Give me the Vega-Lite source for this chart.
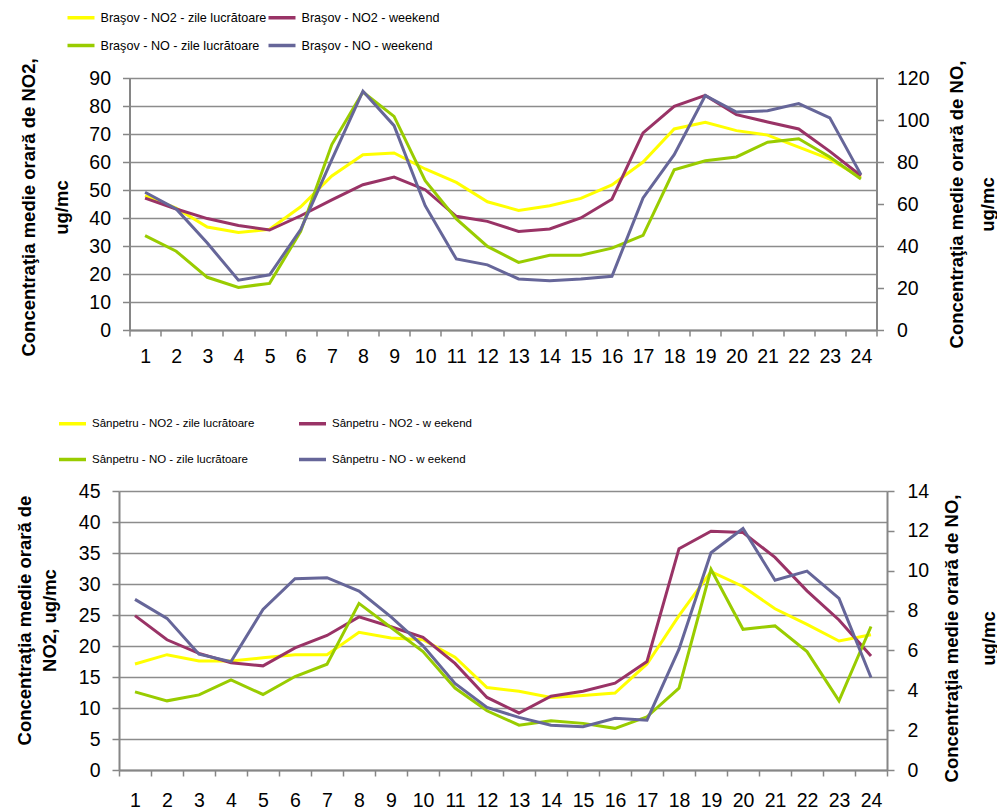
{
  "$schema": "https://vega.github.io/schema/vega-lite/v6.json",
  "background": "white",
  "padding": {"left": 14, "top": 2, "right": 0, "bottom": 0},
  "autosize": {"type": "pad"},
  "config": {
    "view": {"stroke": null},
    "font": "Liberation Sans",
    "axis": {
      "domainColor": "#868686", "domainWidth": 2,
      "tickColor": "#868686", "tickWidth": 1.5,
      "gridColor": "#8c8c8c", "gridWidth": 1.5,
      "labelFont": "Liberation Sans", "labelFontSize": 19.5, "labelColor": "#000000",
      "titleFont": "Liberation Sans",
      "titleFontSize": 18.5, "titleFontWeight": "bold", "titleColor": "#000000"
    },
    "legend": {
      "labelFont": "Liberation Sans",
      "labelFontSize": 12.6, "labelColor": "#000000", "labelLimit": 400,
      "symbolType": "stroke", "symbolStrokeWidth": 3.5, "symbolSize": 729,
      "labelOffset": 4
    }
  },
  "datasets": {
    "brasov": [
      {"h":1,"p":"NO2","s":"Braşov - NO2 - zile lucrătoare","v":48},
      {"h":2,"p":"NO2","s":"Braşov - NO2 - zile lucrătoare","v":43.5},
      {"h":3,"p":"NO2","s":"Braşov - NO2 - zile lucrătoare","v":36.8},
      {"h":4,"p":"NO2","s":"Braşov - NO2 - zile lucrătoare","v":34.8},
      {"h":5,"p":"NO2","s":"Braşov - NO2 - zile lucrătoare","v":36},
      {"h":6,"p":"NO2","s":"Braşov - NO2 - zile lucrătoare","v":44},
      {"h":7,"p":"NO2","s":"Braşov - NO2 - zile lucrătoare","v":55},
      {"h":8,"p":"NO2","s":"Braşov - NO2 - zile lucrătoare","v":62.6},
      {"h":9,"p":"NO2","s":"Braşov - NO2 - zile lucrătoare","v":63.2},
      {"h":10,"p":"NO2","s":"Braşov - NO2 - zile lucrătoare","v":57.5},
      {"h":11,"p":"NO2","s":"Braşov - NO2 - zile lucrătoare","v":52.7},
      {"h":12,"p":"NO2","s":"Braşov - NO2 - zile lucrătoare","v":45.8},
      {"h":13,"p":"NO2","s":"Braşov - NO2 - zile lucrătoare","v":42.7},
      {"h":14,"p":"NO2","s":"Braşov - NO2 - zile lucrătoare","v":44.4},
      {"h":15,"p":"NO2","s":"Braşov - NO2 - zile lucrătoare","v":47},
      {"h":16,"p":"NO2","s":"Braşov - NO2 - zile lucrătoare","v":51.8},
      {"h":17,"p":"NO2","s":"Braşov - NO2 - zile lucrătoare","v":60},
      {"h":18,"p":"NO2","s":"Braşov - NO2 - zile lucrătoare","v":71.8},
      {"h":19,"p":"NO2","s":"Braşov - NO2 - zile lucrătoare","v":74.2},
      {"h":20,"p":"NO2","s":"Braşov - NO2 - zile lucrătoare","v":71.2},
      {"h":21,"p":"NO2","s":"Braşov - NO2 - zile lucrătoare","v":69.6},
      {"h":22,"p":"NO2","s":"Braşov - NO2 - zile lucrătoare","v":65.3},
      {"h":23,"p":"NO2","s":"Braşov - NO2 - zile lucrătoare","v":61},
      {"h":24,"p":"NO2","s":"Braşov - NO2 - zile lucrătoare","v":54.5},
      {"h":1,"p":"NO2","s":"Braşov - NO2 - weekend","v":47.1},
      {"h":2,"p":"NO2","s":"Braşov - NO2 - weekend","v":43.2},
      {"h":3,"p":"NO2","s":"Braşov - NO2 - weekend","v":39.8},
      {"h":4,"p":"NO2","s":"Braşov - NO2 - weekend","v":37.3},
      {"h":5,"p":"NO2","s":"Braşov - NO2 - weekend","v":35.7},
      {"h":6,"p":"NO2","s":"Braşov - NO2 - weekend","v":40.8},
      {"h":7,"p":"NO2","s":"Braşov - NO2 - weekend","v":46.5},
      {"h":8,"p":"NO2","s":"Braşov - NO2 - weekend","v":51.9},
      {"h":9,"p":"NO2","s":"Braşov - NO2 - weekend","v":54.6},
      {"h":10,"p":"NO2","s":"Braşov - NO2 - weekend","v":50.1},
      {"h":11,"p":"NO2","s":"Braşov - NO2 - weekend","v":40.6},
      {"h":12,"p":"NO2","s":"Braşov - NO2 - weekend","v":38.8},
      {"h":13,"p":"NO2","s":"Braşov - NO2 - weekend","v":35.2},
      {"h":14,"p":"NO2","s":"Braşov - NO2 - weekend","v":36.1},
      {"h":15,"p":"NO2","s":"Braşov - NO2 - weekend","v":40},
      {"h":16,"p":"NO2","s":"Braşov - NO2 - weekend","v":46.7},
      {"h":17,"p":"NO2","s":"Braşov - NO2 - weekend","v":70.4},
      {"h":18,"p":"NO2","s":"Braşov - NO2 - weekend","v":79.9},
      {"h":19,"p":"NO2","s":"Braşov - NO2 - weekend","v":83.8},
      {"h":20,"p":"NO2","s":"Braşov - NO2 - weekend","v":76.9},
      {"h":21,"p":"NO2","s":"Braşov - NO2 - weekend","v":74.3},
      {"h":22,"p":"NO2","s":"Braşov - NO2 - weekend","v":71.8},
      {"h":23,"p":"NO2","s":"Braşov - NO2 - weekend","v":63.8},
      {"h":24,"p":"NO2","s":"Braşov - NO2 - weekend","v":55.1},
      {"h":1,"p":"NO","s":"Braşov - NO - zile lucrătoare","v":44.9},
      {"h":2,"p":"NO","s":"Braşov - NO - zile lucrătoare","v":37.5},
      {"h":3,"p":"NO","s":"Braşov - NO - zile lucrătoare","v":25.1},
      {"h":4,"p":"NO","s":"Braşov - NO - zile lucrătoare","v":20.3},
      {"h":5,"p":"NO","s":"Braşov - NO - zile lucrătoare","v":22.2},
      {"h":6,"p":"NO","s":"Braşov - NO - zile lucrătoare","v":47},
      {"h":7,"p":"NO","s":"Braşov - NO - zile lucrătoare","v":88.3},
      {"h":8,"p":"NO","s":"Braşov - NO - zile lucrătoare","v":113.3},
      {"h":9,"p":"NO","s":"Braşov - NO - zile lucrătoare","v":101.7},
      {"h":10,"p":"NO","s":"Braşov - NO - zile lucrătoare","v":71.1},
      {"h":11,"p":"NO","s":"Braşov - NO - zile lucrătoare","v":52.9},
      {"h":12,"p":"NO","s":"Braşov - NO - zile lucrătoare","v":39.8},
      {"h":13,"p":"NO","s":"Braşov - NO - zile lucrătoare","v":32.2},
      {"h":14,"p":"NO","s":"Braşov - NO - zile lucrătoare","v":35.6},
      {"h":15,"p":"NO","s":"Braşov - NO - zile lucrătoare","v":35.6},
      {"h":16,"p":"NO","s":"Braşov - NO - zile lucrătoare","v":39},
      {"h":17,"p":"NO","s":"Braşov - NO - zile lucrătoare","v":45.1},
      {"h":18,"p":"NO","s":"Braşov - NO - zile lucrătoare","v":76.3},
      {"h":19,"p":"NO","s":"Braşov - NO - zile lucrătoare","v":80.6},
      {"h":20,"p":"NO","s":"Braşov - NO - zile lucrătoare","v":82.4},
      {"h":21,"p":"NO","s":"Braşov - NO - zile lucrătoare","v":89.4},
      {"h":22,"p":"NO","s":"Braşov - NO - zile lucrătoare","v":91.1},
      {"h":23,"p":"NO","s":"Braşov - NO - zile lucrătoare","v":82.4},
      {"h":24,"p":"NO","s":"Braşov - NO - zile lucrătoare","v":71.9},
      {"h":1,"p":"NO","s":"Braşov - NO - weekend","v":65.6},
      {"h":2,"p":"NO","s":"Braşov - NO - weekend","v":57.6},
      {"h":3,"p":"NO","s":"Braşov - NO - weekend","v":41.4},
      {"h":4,"p":"NO","s":"Braşov - NO - weekend","v":23.7},
      {"h":5,"p":"NO","s":"Braşov - NO - weekend","v":26.3},
      {"h":6,"p":"NO","s":"Braşov - NO - weekend","v":47.8},
      {"h":7,"p":"NO","s":"Braşov - NO - weekend","v":81.1},
      {"h":8,"p":"NO","s":"Braşov - NO - weekend","v":113.7},
      {"h":9,"p":"NO","s":"Braşov - NO - weekend","v":97.3},
      {"h":10,"p":"NO","s":"Braşov - NO - weekend","v":59.2},
      {"h":11,"p":"NO","s":"Braşov - NO - weekend","v":33.8},
      {"h":12,"p":"NO","s":"Braşov - NO - weekend","v":31},
      {"h":13,"p":"NO","s":"Braşov - NO - weekend","v":24.3},
      {"h":14,"p":"NO","s":"Braşov - NO - weekend","v":23.5},
      {"h":15,"p":"NO","s":"Braşov - NO - weekend","v":24.3},
      {"h":16,"p":"NO","s":"Braşov - NO - weekend","v":25.6},
      {"h":17,"p":"NO","s":"Braşov - NO - weekend","v":62.9},
      {"h":18,"p":"NO","s":"Braşov - NO - weekend","v":83.5},
      {"h":19,"p":"NO","s":"Braşov - NO - weekend","v":111.6},
      {"h":20,"p":"NO","s":"Braşov - NO - weekend","v":103.8},
      {"h":21,"p":"NO","s":"Braşov - NO - weekend","v":104.4},
      {"h":22,"p":"NO","s":"Braşov - NO - weekend","v":107.8},
      {"h":23,"p":"NO","s":"Braşov - NO - weekend","v":101},
      {"h":24,"p":"NO","s":"Braşov - NO - weekend","v":74}
    ],
    "sanpetru": [
      {"h":1,"p":"NO2","s":"Sânpetru - NO2 - zile lucrătoare","v":17.1},
      {"h":2,"p":"NO2","s":"Sânpetru - NO2 - zile lucrătoare","v":18.6},
      {"h":3,"p":"NO2","s":"Sânpetru - NO2 - zile lucrătoare","v":17.6},
      {"h":4,"p":"NO2","s":"Sânpetru - NO2 - zile lucrătoare","v":17.6},
      {"h":5,"p":"NO2","s":"Sânpetru - NO2 - zile lucrătoare","v":18.1},
      {"h":6,"p":"NO2","s":"Sânpetru - NO2 - zile lucrătoare","v":18.6},
      {"h":7,"p":"NO2","s":"Sânpetru - NO2 - zile lucrătoare","v":18.6},
      {"h":8,"p":"NO2","s":"Sânpetru - NO2 - zile lucrătoare","v":22.2},
      {"h":9,"p":"NO2","s":"Sânpetru - NO2 - zile lucrătoare","v":21.3},
      {"h":10,"p":"NO2","s":"Sânpetru - NO2 - zile lucrătoare","v":21},
      {"h":11,"p":"NO2","s":"Sânpetru - NO2 - zile lucrătoare","v":18.2},
      {"h":12,"p":"NO2","s":"Sânpetru - NO2 - zile lucrătoare","v":13.3},
      {"h":13,"p":"NO2","s":"Sânpetru - NO2 - zile lucrătoare","v":12.7},
      {"h":14,"p":"NO2","s":"Sânpetru - NO2 - zile lucrătoare","v":11.7},
      {"h":15,"p":"NO2","s":"Sânpetru - NO2 - zile lucrătoare","v":12},
      {"h":16,"p":"NO2","s":"Sânpetru - NO2 - zile lucrătoare","v":12.4},
      {"h":17,"p":"NO2","s":"Sânpetru - NO2 - zile lucrătoare","v":17.1},
      {"h":18,"p":"NO2","s":"Sânpetru - NO2 - zile lucrătoare","v":24.9},
      {"h":19,"p":"NO2","s":"Sânpetru - NO2 - zile lucrătoare","v":32},
      {"h":20,"p":"NO2","s":"Sânpetru - NO2 - zile lucrătoare","v":29.6},
      {"h":21,"p":"NO2","s":"Sânpetru - NO2 - zile lucrătoare","v":26},
      {"h":22,"p":"NO2","s":"Sânpetru - NO2 - zile lucrătoare","v":23.5},
      {"h":23,"p":"NO2","s":"Sânpetru - NO2 - zile lucrătoare","v":20.8},
      {"h":24,"p":"NO2","s":"Sânpetru - NO2 - zile lucrătoare","v":21.8},
      {"h":1,"p":"NO2","s":"Sânpetru - NO2 - w eekend","v":24.9},
      {"h":2,"p":"NO2","s":"Sânpetru - NO2 - w eekend","v":21},
      {"h":3,"p":"NO2","s":"Sânpetru - NO2 - w eekend","v":18.8},
      {"h":4,"p":"NO2","s":"Sânpetru - NO2 - w eekend","v":17.3},
      {"h":5,"p":"NO2","s":"Sânpetru - NO2 - w eekend","v":16.8},
      {"h":6,"p":"NO2","s":"Sânpetru - NO2 - w eekend","v":19.7},
      {"h":7,"p":"NO2","s":"Sânpetru - NO2 - w eekend","v":21.7},
      {"h":8,"p":"NO2","s":"Sânpetru - NO2 - w eekend","v":24.7},
      {"h":9,"p":"NO2","s":"Sânpetru - NO2 - w eekend","v":23.1},
      {"h":10,"p":"NO2","s":"Sânpetru - NO2 - w eekend","v":21.4},
      {"h":11,"p":"NO2","s":"Sânpetru - NO2 - w eekend","v":17.2},
      {"h":12,"p":"NO2","s":"Sânpetru - NO2 - w eekend","v":11.7},
      {"h":13,"p":"NO2","s":"Sânpetru - NO2 - w eekend","v":9.2},
      {"h":14,"p":"NO2","s":"Sânpetru - NO2 - w eekend","v":11.9},
      {"h":15,"p":"NO2","s":"Sânpetru - NO2 - w eekend","v":12.7},
      {"h":16,"p":"NO2","s":"Sânpetru - NO2 - w eekend","v":14},
      {"h":17,"p":"NO2","s":"Sânpetru - NO2 - w eekend","v":17.5},
      {"h":18,"p":"NO2","s":"Sânpetru - NO2 - w eekend","v":35.7},
      {"h":19,"p":"NO2","s":"Sânpetru - NO2 - w eekend","v":38.5},
      {"h":20,"p":"NO2","s":"Sânpetru - NO2 - w eekend","v":38.3},
      {"h":21,"p":"NO2","s":"Sânpetru - NO2 - w eekend","v":34.3},
      {"h":22,"p":"NO2","s":"Sânpetru - NO2 - w eekend","v":28.9},
      {"h":23,"p":"NO2","s":"Sânpetru - NO2 - w eekend","v":24.2},
      {"h":24,"p":"NO2","s":"Sânpetru - NO2 - w eekend","v":18.4},
      {"h":1,"p":"NO","s":"Sânpetru - NO - zile lucrătoare","v":3.92},
      {"h":2,"p":"NO","s":"Sânpetru - NO - zile lucrătoare","v":3.47},
      {"h":3,"p":"NO","s":"Sânpetru - NO - zile lucrătoare","v":3.77},
      {"h":4,"p":"NO","s":"Sânpetru - NO - zile lucrătoare","v":4.52},
      {"h":5,"p":"NO","s":"Sânpetru - NO - zile lucrătoare","v":3.79},
      {"h":6,"p":"NO","s":"Sânpetru - NO - zile lucrătoare","v":4.69},
      {"h":7,"p":"NO","s":"Sânpetru - NO - zile lucrătoare","v":5.31},
      {"h":8,"p":"NO","s":"Sânpetru - NO - zile lucrătoare","v":8.36},
      {"h":9,"p":"NO","s":"Sânpetru - NO - zile lucrătoare","v":7.15},
      {"h":10,"p":"NO","s":"Sânpetru - NO - zile lucrătoare","v":5.94},
      {"h":11,"p":"NO","s":"Sânpetru - NO - zile lucrătoare","v":4.11},
      {"h":12,"p":"NO","s":"Sânpetru - NO - zile lucrătoare","v":2.97},
      {"h":13,"p":"NO","s":"Sânpetru - NO - zile lucrătoare","v":2.25},
      {"h":14,"p":"NO","s":"Sânpetru - NO - zile lucrătoare","v":2.47},
      {"h":15,"p":"NO","s":"Sânpetru - NO - zile lucrătoare","v":2.34},
      {"h":16,"p":"NO","s":"Sânpetru - NO - zile lucrătoare","v":2.09},
      {"h":17,"p":"NO","s":"Sânpetru - NO - zile lucrătoare","v":2.67},
      {"h":18,"p":"NO","s":"Sânpetru - NO - zile lucrătoare","v":4.11},
      {"h":19,"p":"NO","s":"Sânpetru - NO - zile lucrătoare","v":10.07},
      {"h":20,"p":"NO","s":"Sânpetru - NO - zile lucrătoare","v":7.06},
      {"h":21,"p":"NO","s":"Sânpetru - NO - zile lucrătoare","v":7.23},
      {"h":22,"p":"NO","s":"Sânpetru - NO - zile lucrătoare","v":5.94},
      {"h":23,"p":"NO","s":"Sânpetru - NO - zile lucrătoare","v":3.47},
      {"h":24,"p":"NO","s":"Sânpetru - NO - zile lucrătoare","v":7.2},
      {"h":1,"p":"NO","s":"Sânpetru - NO - w eekend","v":8.56},
      {"h":2,"p":"NO","s":"Sânpetru - NO - w eekend","v":7.61},
      {"h":3,"p":"NO","s":"Sânpetru - NO - w eekend","v":5.81},
      {"h":4,"p":"NO","s":"Sânpetru - NO - w eekend","v":5.44},
      {"h":5,"p":"NO","s":"Sânpetru - NO - w eekend","v":8.06},
      {"h":6,"p":"NO","s":"Sânpetru - NO - w eekend","v":9.6},
      {"h":7,"p":"NO","s":"Sânpetru - NO - w eekend","v":9.65},
      {"h":8,"p":"NO","s":"Sânpetru - NO - w eekend","v":8.98},
      {"h":9,"p":"NO","s":"Sânpetru - NO - w eekend","v":7.68},
      {"h":10,"p":"NO","s":"Sânpetru - NO - w eekend","v":6.23},
      {"h":11,"p":"NO","s":"Sânpetru - NO - w eekend","v":4.34},
      {"h":12,"p":"NO","s":"Sânpetru - NO - w eekend","v":3.14},
      {"h":13,"p":"NO","s":"Sânpetru - NO - w eekend","v":2.64},
      {"h":14,"p":"NO","s":"Sânpetru - NO - w eekend","v":2.25},
      {"h":15,"p":"NO","s":"Sânpetru - NO - w eekend","v":2.17},
      {"h":16,"p":"NO","s":"Sânpetru - NO - w eekend","v":2.6},
      {"h":17,"p":"NO","s":"Sânpetru - NO - w eekend","v":2.5},
      {"h":18,"p":"NO","s":"Sânpetru - NO - w eekend","v":6.06},
      {"h":19,"p":"NO","s":"Sânpetru - NO - w eekend","v":10.9},
      {"h":20,"p":"NO","s":"Sânpetru - NO - w eekend","v":12.12},
      {"h":21,"p":"NO","s":"Sânpetru - NO - w eekend","v":9.52},
      {"h":22,"p":"NO","s":"Sânpetru - NO - w eekend","v":9.98},
      {"h":23,"p":"NO","s":"Sânpetru - NO - w eekend","v":8.61},
      {"h":24,"p":"NO","s":"Sânpetru - NO - w eekend","v":4.64}
    ]
  },
  "bounds": "flush",
  "center": true,
  "spacing": 161,
  "resolve": {"scale": {"color": "independent"}, "legend": {"color": "independent"}},
  "vconcat": [
    {
      "width": 747,
      "height": 252,
      "data": {"name": "brasov"},
      "encoding": {
        "x": {
          "field": "h", "type": "ordinal", "bandPosition": 0.5,
          "scale": {"type": "band", "paddingInner": 0, "paddingOuter": 0},
          "axis": {"title": null, "labelAngle": 0, "tickBand": "extent", "tickSize": 6, "labelPadding": 11, "labelOverlap": false, "grid": false}
        },
        "color": {
          "field": "s", "type": "nominal",
          "scale": {
            "domain": ["Braşov - NO2 - zile lucrătoare", "Braşov - NO2 - weekend", "Braşov - NO - zile lucrătoare", "Braşov - NO - weekend"],
            "range": ["#FFFF00", "#993366", "#99CC00", "#666699"]
          },
          "legend": {"title": null, "orient": "none", "legendX": -64, "legendY": -76, "columns": 2, "direction": "horizontal", "columnPadding": -14, "rowPadding": 5}
        }
      },
      "layer": [
        {
          "transform": [{"filter": "datum.p == 'NO2'"}],
          "mark": {"type": "line", "strokeWidth": 3},
          "encoding": {
            "y": {
              "field": "v", "type": "quantitative",
              "scale": {"domain": [0, 90], "nice": false},
              "axis": {
                "orient": "left", "values": [0,10,20,30,40,50,60,70,80,90], "grid": true,
                "tickSize": 7, "labelPadding": 12,
                "title": ["Concentraţia medie orară de NO2,", "ug/mc"],
                "titleAngle": -90, "titleAlign": "center", "titleBaseline": "alphabetic",
                "titleX": -95, "titleY": 129, "titleLineHeight": 33
              }
            }
          }
        },
        {
          "transform": [{"filter": "datum.p == 'NO'"}],
          "mark": {"type": "line", "strokeWidth": 3},
          "encoding": {
            "y": {
              "field": "v", "type": "quantitative",
              "scale": {"domain": [0, 120], "nice": false},
              "axis": {
                "orient": "right", "values": [0,20,40,60,80,100,120], "grid": false,
                "tickSize": 7, "labelPadding": 13,
                "title": ["Concentraţia medie orară de NO,", "ug/mc"],
                "titleAngle": -90, "titleAlign": "center", "titleBaseline": "alphabetic",
                "titleX": 86, "titleY": 126, "titleLineHeight": 31
              }
            }
          }
        }
      ],
      "resolve": {"scale": {"y": "independent"}}
    },
    {
      "width": 768,
      "height": 279,
      "data": {"name": "sanpetru"},
      "encoding": {
        "x": {
          "field": "h", "type": "ordinal", "bandPosition": 0.5,
          "scale": {"type": "band", "paddingInner": 0, "paddingOuter": 0},
          "axis": {"title": null, "labelAngle": 0, "tickBand": "extent", "tickSize": 6, "labelPadding": 15, "labelOverlap": false, "grid": false}
        },
        "color": {
          "field": "s", "type": "nominal",
          "scale": {
            "domain": ["Sânpetru - NO2 - zile lucrătoare", "Sânpetru - NO2 - w eekend", "Sânpetru - NO - zile lucrătoare", "Sânpetru - NO - w eekend"],
            "range": ["#FFFF00", "#993366", "#99CC00", "#666699"]
          },
          "legend": {"title": null, "orient": "none", "legendX": -62, "legendY": -83, "columns": 2, "direction": "horizontal", "columnPadding": 37, "rowPadding": 13, "labelFontSize": 11.5}
        }
      },
      "layer": [
        {
          "transform": [{"filter": "datum.p == 'NO2'"}],
          "mark": {"type": "line", "strokeWidth": 3},
          "encoding": {
            "y": {
              "field": "v", "type": "quantitative",
              "scale": {"domain": [0, 45], "nice": false},
              "axis": {
                "orient": "left", "values": [0,5,10,15,20,25,30,35,40,45], "grid": true,
                "tickSize": 7, "labelPadding": 12,
                "title": ["Concentraţia medie orară de", "NO2, ug/mc"],
                "titleAngle": -90, "titleAlign": "center", "titleBaseline": "alphabetic",
                "titleX": -89, "titleY": 129, "titleLineHeight": 25
              }
            }
          }
        },
        {
          "transform": [{"filter": "datum.p == 'NO'"}],
          "mark": {"type": "line", "strokeWidth": 3},
          "encoding": {
            "y": {
              "field": "v", "type": "quantitative",
              "scale": {"domain": [0, 14], "nice": false},
              "axis": {
                "orient": "right", "values": [0,2,4,6,8,10,12,14], "grid": false,
                "tickSize": 7, "labelPadding": 13,
                "title": ["Concentraţia medie orară de NO,", "ug/mc"],
                "titleAngle": -90, "titleAlign": "center", "titleBaseline": "alphabetic",
                "titleX": 70, "titleY": 147, "titleLineHeight": 37
              }
            }
          }
        }
      ],
      "resolve": {"scale": {"y": "independent"}}
    }
  ]
}
